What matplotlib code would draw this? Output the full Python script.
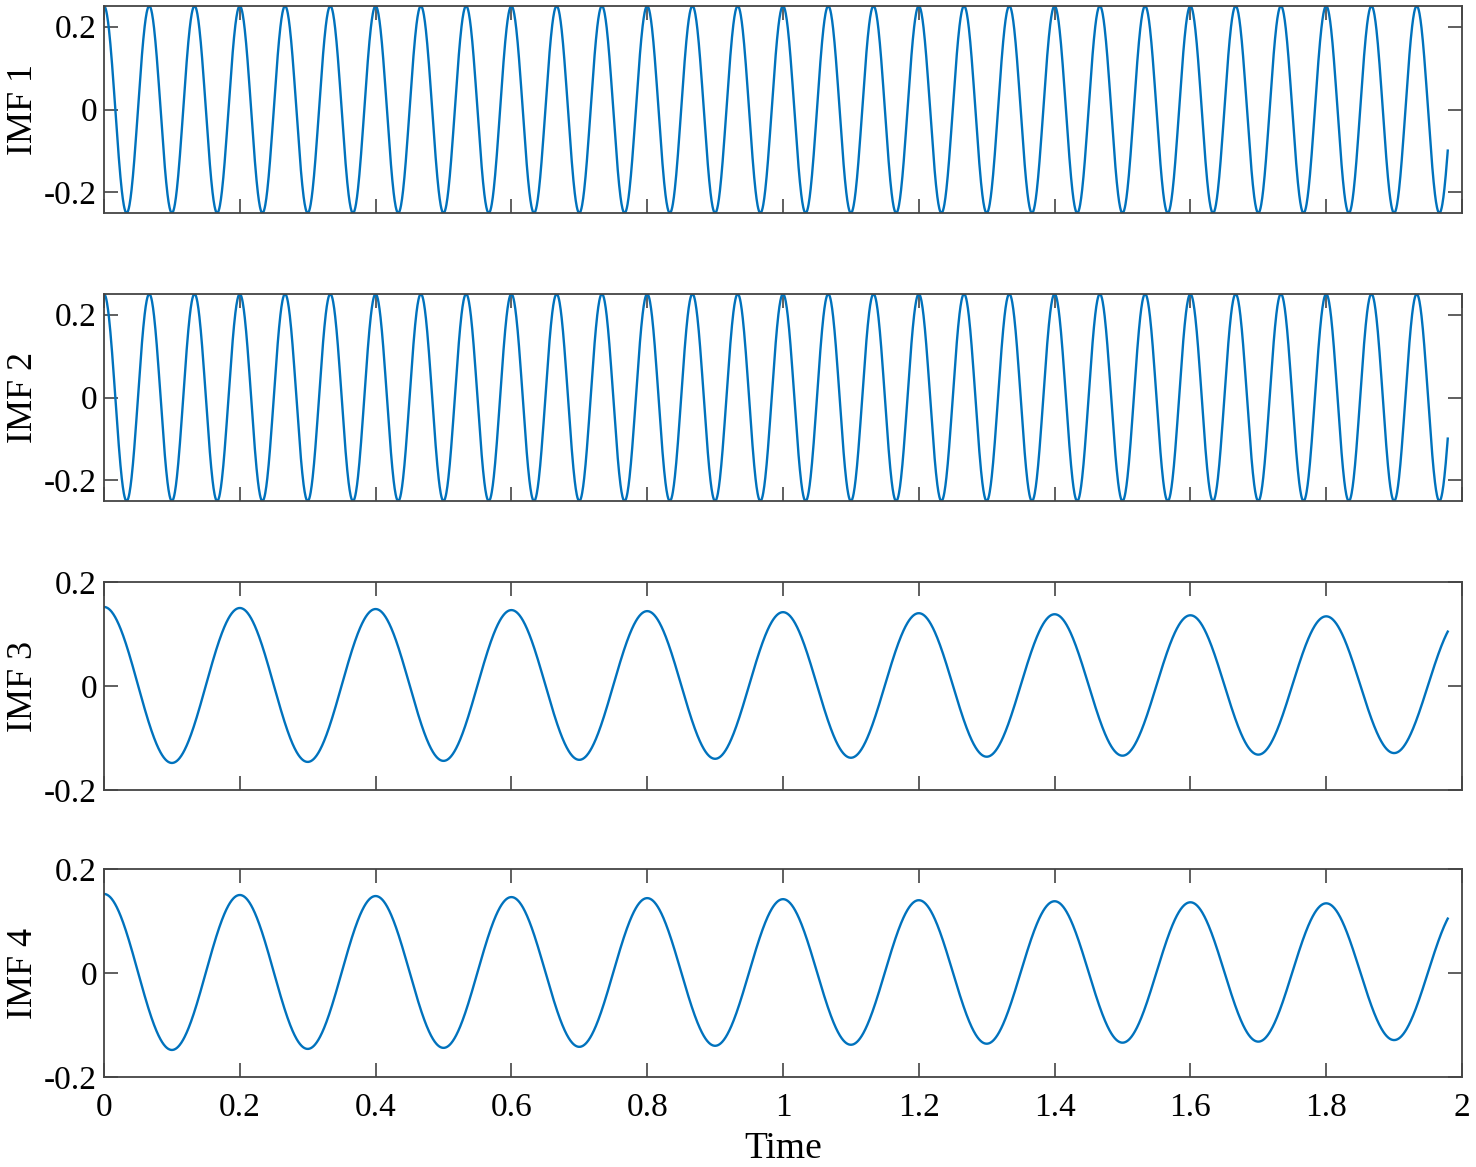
import numpy as np
import matplotlib.pyplot as plt

# Data: extrema (time, value) of each IMF
t_end = 1.979
labels = ['IMF 1', 'IMF 2', 'IMF 3', 'IMF 4']

# IMF 1 / IMF 2: alternating peaks/troughs every 1/30 s, amplitude 0.25
hf_times = [k / 30 for k in range(61)]
hf_values = [0.25 if k % 2 == 0 else -0.25 for k in range(61)]

# IMF 3 / IMF 4: peaks at 0, 0.2, ... troughs at 0.1, 0.3, ...
lf_times = [0.0, 0.1, 0.2, 0.3, 0.4, 0.5, 0.6, 0.7, 0.8, 0.9, 1.0,
            1.1, 1.2, 1.3, 1.4, 1.5, 1.6, 1.7, 1.8, 1.9, 2.0]
lf_values = [0.152, -0.148, 0.150, -0.146, 0.148, -0.144, 0.146, -0.142,
             0.144, -0.140, 0.142, -0.138, 0.140, -0.136, 0.138, -0.134,
             0.136, -0.132, 0.134, -0.129, 0.132]

imf_extrema = [(hf_times, hf_values), (hf_times, hf_values),
               (lf_times, lf_values), (lf_times, lf_values)]
ylims = [0.25, 0.25, 0.2, 0.2]
xticks = [0, 0.2, 0.4, 0.6, 0.8, 1, 1.2, 1.4, 1.6, 1.8, 2]
xticklabels = ['0', '0.2', '0.4', '0.6', '0.8', '1', '1.2', '1.4', '1.6', '1.8', '2']
yticks = [-0.2, 0, 0.2]
yticklabels = ['-0.2', '0', '0.2']


def build_curve(te, ve, t):
    # half-cosine shape between consecutive extrema
    te = np.asarray(te)
    ve = np.asarray(ve)
    idx = np.clip(np.searchsorted(te, t, side='right') - 1, 0, len(te) - 2)
    ta, tb = te[idx], te[idx + 1]
    a, b = ve[idx], ve[idx + 1]
    ph = (t - ta) / (tb - ta)
    return (a + b) / 2 + (a - b) / 2 * np.cos(np.pi * ph)


plt.rcParams['font.family'] = ['Liberation Serif', 'DejaVu Serif']
edge = '#444444'
line_color = '#0072BD'

fig = plt.figure(figsize=(14.76, 11.67), dpi=100)
left, width = 104 / 1476, (1462 - 104) / 1476
tops = [6, 294, 582, 869]
bottoms = [213, 501, 790, 1077]

t = np.linspace(0, t_end, 4000)
for i in range(4):
    b = 1 - bottoms[i] / 1167
    h = (bottoms[i] - tops[i]) / 1167
    ax = fig.add_axes([left, b, width, h])
    te, ve = imf_extrema[i]
    ax.plot(t, build_curve(te, ve, t), color=line_color, lw=1.7)
    ax.set_xlim(0, 2)
    ax.set_ylim(-ylims[i], ylims[i])
    ax.set_xticks(xticks)
    ax.set_yticks(yticks)
    ax.set_yticklabels(yticklabels)
    if i == 3:
        ax.set_xticklabels(xticklabels)
        ax.set_xlabel('Time', fontsize=27, labelpad=6)
    else:
        ax.set_xticklabels([])
    ax.set_ylabel(labels[i], fontsize=26, labelpad=3)
    ax.tick_params(direction='in', length=10, width=1.2, colors=edge,
                   labelcolor='black', labelsize=24, top=True, right=True)
    ax.tick_params(axis='x', pad=11)
    ax.tick_params(axis='y', pad=5)
    for s in ax.spines.values():
        s.set_color(edge)
        s.set_linewidth(1.3)

fig.savefig('out.png', dpi=100)
